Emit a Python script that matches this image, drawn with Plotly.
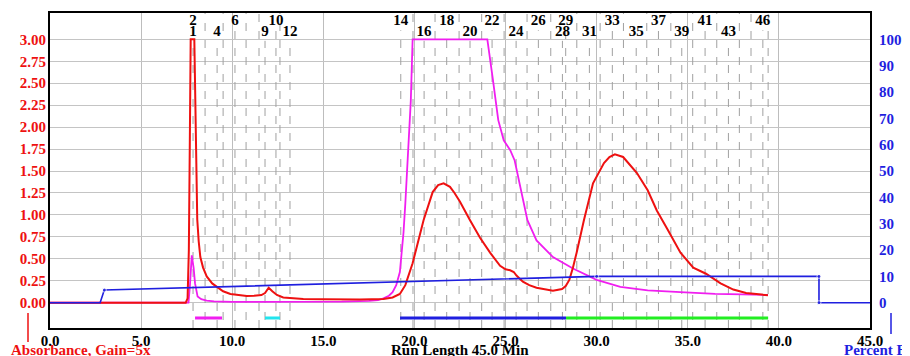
import plotly.graph_objects as go

# ---------------- data ----------------
red_time = [0, 7.45, 7.55, 7.62, 7.68, 7.72, 7.92, 7.97, 8.02, 8.08, 8.16, 8.25, 8.4, 8.6, 8.9, 9.15,
            9.5, 9.9, 10.4, 10.8, 11.2, 11.6, 11.8, 12.0, 12.2, 12.45, 12.8, 13.3, 13.9, 15.0, 16.0,
            17.0, 18.3, 18.8, 19.2, 19.5, 19.9, 20.2, 20.5, 21.0, 21.3, 21.6, 21.95, 22.2, 22.5,
            23.05, 23.6, 24.15, 24.7, 25.0, 25.25, 25.45, 25.6, 25.95, 26.3, 26.7, 27.2, 27.6,
            28.1, 28.3, 28.5, 28.7, 28.9, 29.3, 29.8, 30.4, 30.7, 31.0, 31.45, 31.8, 32.2, 32.8,
            33.3, 33.9, 34.6, 35.3, 36.0, 36.8, 37.5, 38.2, 38.8, 39.4]
red_abs = [0, 0, 0.05, 0.6, 2.0, 3.0, 3.0, 2.2, 1.4, 0.95, 0.7, 0.52, 0.4, 0.3, 0.22, 0.18,
           0.13, 0.10, 0.085, 0.077, 0.08, 0.087, 0.11, 0.17, 0.13, 0.088, 0.06, 0.048, 0.042, 0.04, 0.038,
           0.038, 0.042, 0.06, 0.1, 0.2, 0.45, 0.7, 0.94, 1.26, 1.34, 1.36, 1.32, 1.25, 1.15,
           0.94, 0.74, 0.57, 0.42, 0.38, 0.37, 0.35, 0.31, 0.24, 0.2, 0.17, 0.15, 0.137,
           0.155, 0.19, 0.26, 0.4, 0.57, 0.94, 1.36, 1.59, 1.66, 1.69, 1.66, 1.58, 1.48, 1.28,
           1.05, 0.83, 0.57, 0.40, 0.33, 0.22, 0.15, 0.11, 0.095, 0.085]

mag_time = [0, 7.6, 7.68, 7.78, 7.88, 7.96, 8.1, 8.3, 8.6, 9.0, 10.0, 12.0, 14.0, 16.0, 17.5,
            18.0, 18.3, 18.6, 18.8, 19.0, 19.2, 19.4, 19.5, 19.65, 19.8, 19.9, 24.0, 24.3, 24.6,
            24.9, 25.25, 25.5, 25.8, 26.2, 26.7, 27.6, 28.7, 30.0, 31.3, 32.8, 34.6, 36.5, 38.0, 39.4]
mag_abs = [0, 0, 0.2, 0.54, 0.4, 0.22, 0.07, 0.04, 0.025, 0.015, 0.01, 0.01, 0.01, 0.012, 0.02,
           0.03, 0.05, 0.08, 0.12, 0.2, 0.35, 0.8, 1.13, 1.7, 2.3, 3.0, 3.0, 2.55, 2.08,
           1.85, 1.74, 1.62, 1.32, 0.94, 0.71, 0.52, 0.39, 0.26, 0.18, 0.14, 0.12, 0.10, 0.095, 0.088]

grad_time = [0, 2.75, 2.98, 30.0, 42.2, 42.2, 45.0]
grad_pct = [0, 0, 4.8, 10, 10, 0, 0]

frac_lines = [7.85, 8.51, 9.17, 9.50, 10.15, 10.76, 11.47, 11.80, 12.40, 12.62, 13.17,
              19.25, 19.92, 20.53, 21.13, 21.77, 22.45, 23.05, 23.69, 24.26, 24.92, 25.58,
              26.18, 26.80, 27.48, 28.12, 28.30, 28.91, 29.60, 30.19, 30.86, 31.47, 32.17,
              32.75, 33.39, 34.07, 34.67, 35.27, 35.95, 36.59, 37.23, 37.83, 38.47, 39.12, 39.41]

label_text = ["1", "2", "4", "6", "9", "10", "12", "14", "16", "18", "20", "22", "24", "26",
              "28", "29", "31", "33", "35", "37", "39", "41", "43", "46"]
label_time = [7.85, 7.85, 9.17, 10.15, 11.80, 12.40, 13.17, 19.25, 20.53, 21.77, 23.05, 24.26,
              25.58, 26.80, 28.12, 28.30, 29.60, 30.86, 32.17, 33.39, 34.67, 35.95, 37.23, 39.12]

collect_start = [7.96, 11.80, 19.21, 28.32]
collect_end = [9.44, 12.62, 28.32, 39.41]
collect_colors = ["#f01ef0", "#22e5ee", "#1f1fdf", "#22ee22"]

x_ticks = [0, 5, 10, 15, 20, 25, 30, 35, 40, 45]
y_ticks = [i * 0.25 for i in range(13)]
y2_ticks = [0, 10, 20, 30, 40, 50, 60, 70, 80, 90, 100]

# ---------------- figure ----------------
# page body has an 8px margin: the figure starts at (8, 8) in the window
FONT = "Liberation Serif"
Y_LO, Y_HI = -0.288, 3.30
ROW_Y = [3.083, 3.203]
BAR_Y = -0.174
PLOT_TOP, PLOT_BOT, PLOT_L, PLOT_W = 13, 328, 50, 820
PLOT_H = PLOT_BOT - PLOT_TOP
CAP_Y = (PLOT_BOT - 350) / PLOT_H

def px_x(px):
    return (px - PLOT_L) / PLOT_W

def px_y(py):
    return (PLOT_BOT - py) / PLOT_H

fig = go.Figure()

fig.add_trace(go.Scatter(x=grad_time, y=grad_pct, yaxis="y2", mode="lines+markers",
                         line=dict(color="#1f1fdf", width=1.6),
                         marker=dict(size=[0, 0, 4, 4, 4, 4, 0], color="#1f1fdf"),
                         hoverinfo="skip", showlegend=False))

for s, e, c in zip(collect_start, collect_end, collect_colors):
    fig.add_trace(go.Scatter(x=[s, e], y=[BAR_Y, BAR_Y], mode="lines",
                             line=dict(color=c, width=3), hoverinfo="skip", showlegend=False))

fig.add_trace(go.Scatter(x=mag_time, y=mag_abs, mode="lines",
                         line=dict(color="#f01ef0", width=1.8), hoverinfo="skip", showlegend=False))
fig.add_trace(go.Scatter(x=red_time, y=red_abs, mode="lines",
                         line=dict(color="#ee1111", width=2), hoverinfo="skip", showlegend=False))

label_y = [ROW_Y[i % 2] for i in range(len(label_text))]
fig.add_trace(go.Scatter(x=label_time, y=label_y, mode="text", text=label_text,
                         textposition="middle center", cliponaxis=False,
                         textfont=dict(family=FONT, size=15, color="black", weight="bold"),
                         hoverinfo="skip", showlegend=False))

# fraction marker lines (dashed, alternate phase)
for i, t in enumerate(frac_lines):
    tops = [ly for lt, ly in zip(label_time, label_y) if abs(lt - t) < 0.01]
    y1 = (min(tops) - 0.1) if tops else Y_HI
    dash = "8px,9px" if i % 2 == 0 else "0px,8px,8px,1px"
    fig.add_shape(type="line", xref="x", yref="y", x0=t, x1=t, y0=Y_LO, y1=y1,
                  line=dict(color="#a0a0a0", width=1, dash=dash), layer="between")

# bottom captions
fig.add_annotation(xref="paper", yref="paper", x=px_x(9), y=CAP_Y,
                   xanchor="left", yanchor="middle", showarrow=False,
                   text="Absorbance, Gain=5x",
                   font=dict(family=FONT, size=15, color="#ee1111", weight="bold"))
fig.add_annotation(xref="paper", yref="paper", x=0.5, y=CAP_Y,
                   xanchor="center", yanchor="middle", showarrow=False,
                   text="Run Length 45.0 Min",
                   font=dict(family=FONT, size=15, color="black", weight="bold"))
fig.add_annotation(xref="paper", yref="paper", x=px_x(842), y=CAP_Y,
                   xanchor="left", yanchor="middle", showarrow=False,
                   text="Percent B",
                   font=dict(family=FONT, size=15, color="#1f1fdf", weight="bold"))
fig.add_shape(type="line", xref="paper", yref="paper",
              x0=px_x(28), x1=px_x(28), y0=px_y(313), y1=px_y(342),
              line=dict(color="#ee1111", width=1.5))
fig.add_shape(type="line", xref="paper", yref="paper",
              x0=px_x(891), x1=px_x(891), y0=px_y(313), y1=px_y(334),
              line=dict(color="#1f1fdf", width=1.5))

fig.update_layout(
    width=902, height=348, autosize=False,
    margin=dict(l=PLOT_L - 8, r=902 - (PLOT_L - 8) - PLOT_W, t=PLOT_TOP - 8,
                b=348 - (PLOT_TOP - 8) - PLOT_H, pad=0),
    paper_bgcolor="white", plot_bgcolor="white",
    xaxis=dict(range=[0, 45], tickvals=x_ticks, ticktext=[f"{v:.1f}" for v in x_ticks],
               automargin=False,
               showgrid=True, gridcolor="#bdbdbd", gridwidth=1, zeroline=False,
               showline=True, linecolor="black", linewidth=2, mirror=True, ticks="",
               ticklabelstandoff=-2,
               tickfont=dict(family=FONT, size=15, color="black", weight="bold")),
    yaxis=dict(range=[Y_LO, Y_HI], tickvals=y_ticks, ticktext=[f"{v:.2f}" for v in y_ticks],
               automargin=False,
               showgrid=True, gridcolor="#c4c4c4", gridwidth=1, zeroline=False,
               showline=True, linecolor="black", linewidth=2, mirror=True, ticks="",
               ticklabelstandoff=-1,
               tickfont=dict(family=FONT, size=15, color="#ee1111", weight="bold")),
    yaxis2=dict(range=[Y_LO * 100 / 3, Y_HI * 100 / 3], tickvals=y2_ticks,
                ticktext=[str(v) for v in y2_ticks], overlaying="y", side="right",
                automargin=False,
                showgrid=False, zeroline=False, showline=False, ticks="",
                ticklabelstandoff=8,
                tickfont=dict(family=FONT, size=15, color="#1f1fdf", weight="bold")),
)

fig.write_html("out.html")
